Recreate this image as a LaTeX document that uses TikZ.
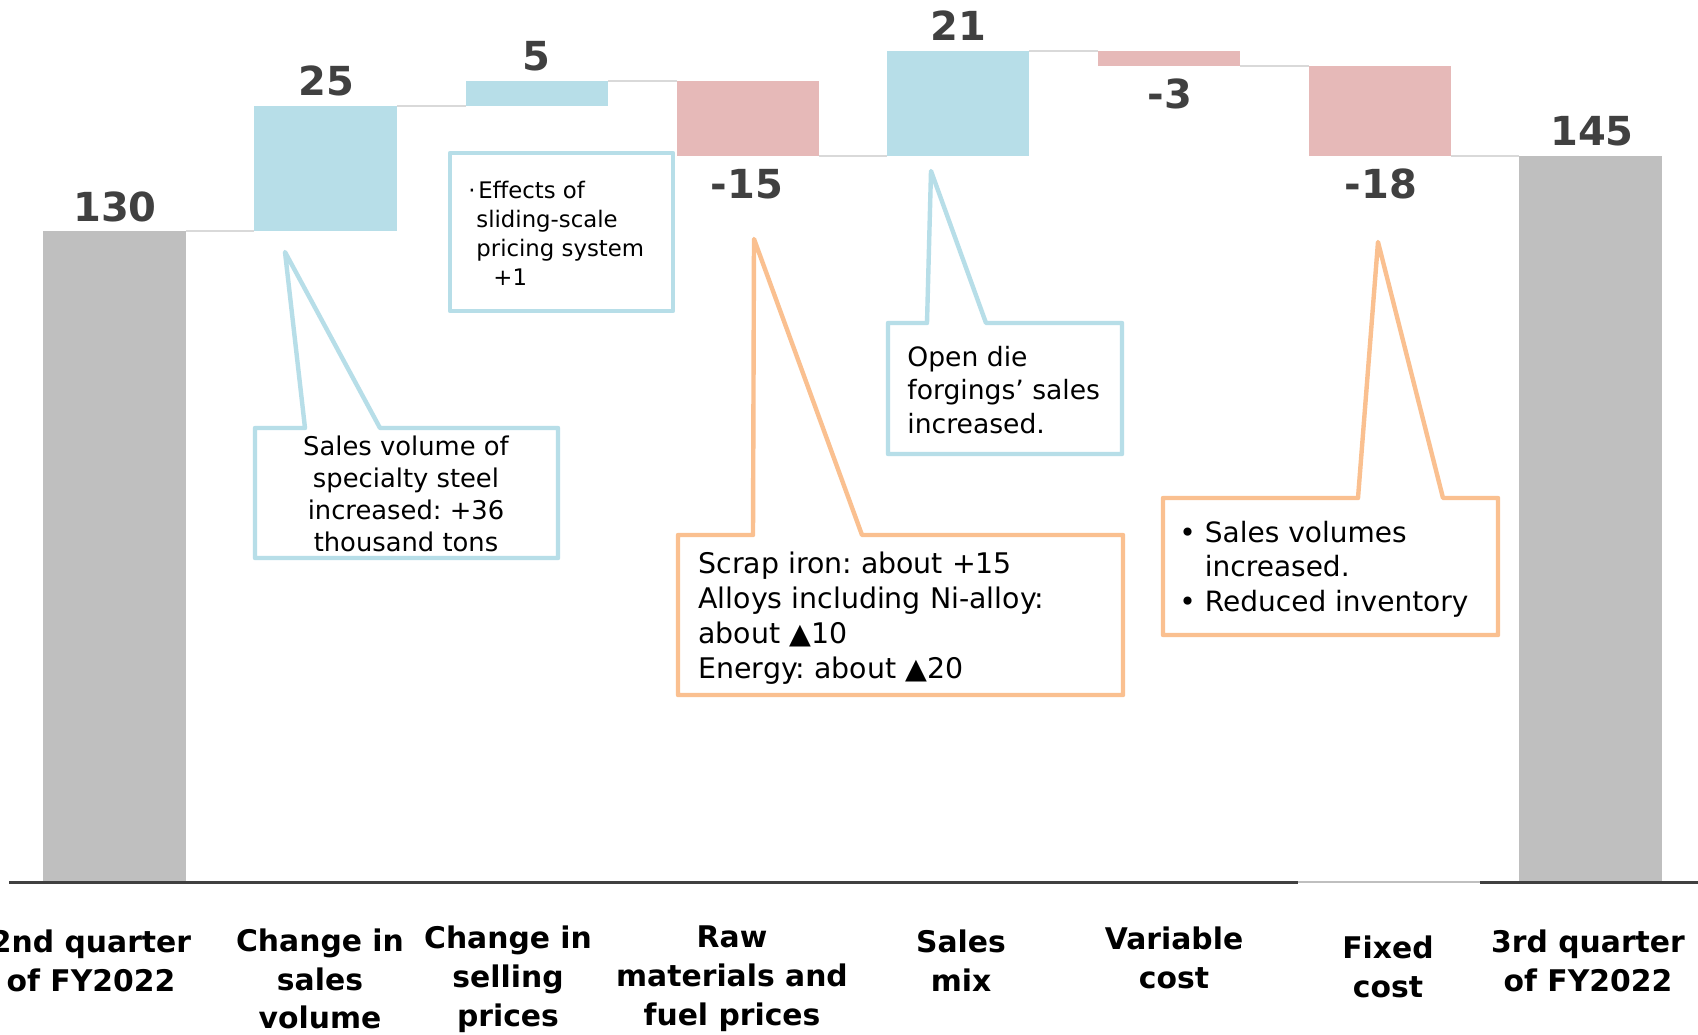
\documentclass[tikz,border=0pt]{standalone}
\usepackage{fontspec}
\setmainfont{DejaVu Sans}
\frenchspacing
\definecolor{barblue}{HTML}{B7DEE8}
\definecolor{barpink}{HTML}{E6B9B8}
\definecolor{bargray}{HTML}{BFBFBF}
\definecolor{callorange}{HTML}{FAC090}
\definecolor{valgray}{HTML}{404040}
\definecolor{linkgray}{HTML}{D9D9D9}
\definecolor{axisdark}{HTML}{404040}
\begin{document}
\frenchspacing
\begin{tikzpicture}[x=0.5pt,y=-0.5pt,
  val/.style={font=\bfseries\fontsize{20}{24}\selectfont, text=valgray, inner sep=0pt},
  cat/.style={font=\bfseries\fontsize{14.9}{19.4}\selectfont, align=center, inner sep=0pt},
  callblue/.style={draw=barblue, line width=2.2pt, fill=white, line join=round},
  callorg/.style={draw=callorange, line width=2.2pt, fill=white, line join=round},
  link/.style={draw=linkgray, line width=1pt},
  ctext/.style={inner sep=0pt, align=left, anchor=west}]
\useasboundingbox (0,0) rectangle (1698,1034);
\fill[white] (0,0) rectangle (1698,1034);

% connector lines between bars
\draw[link] (186,231) -- (254,231);
\draw[link] (397,106) -- (466,106);
\draw[link] (608,81) -- (677,81);
\draw[link] (819,156) -- (887,156);
\draw[link] (1029,51) -- (1098,51);
\draw[link] (1240,66) -- (1309,66);
\draw[link] (1451,156) -- (1519,156);

% bars
\fill[bargray] (43,231) rectangle (186,881);
\fill[barblue] (254,106) rectangle (397,231);
\fill[barblue] (466,81) rectangle (608,106);
\fill[barpink] (677,81) rectangle (819,156);
\fill[barblue] (887,51) rectangle (1029,156);
\fill[barpink] (1098,51) rectangle (1240,66);
\fill[barpink] (1309,66) rectangle (1451,156);
\fill[bargray] (1519,156) rectangle (1662,881);

% axis
\draw[axisdark, line width=1.5pt] (9,882) -- (1298,882);
\draw[bargray, line width=1pt] (1298,881.5) -- (1480,881.5);
\draw[axisdark, line width=1.5pt] (1480,882) -- (1698,882);

% value labels
\node[val] (v130) at (115,207) {130};
\node[val] (v25) at (326,81) {25};
\node[val] (v5) at (536,56) {5};
\node[val] (vm15) at (747,184) {-15};
\node[val] (v21) at (958,26) {21};
\node[val] (vm3) at (1170,94) {-3};
\node[val] (vm18) at (1381,184) {-18};
\node[val] (v145) at (1592,131) {145};

% category labels
\node[cat] (c1) at (91,961) {2nd quarter\\of FY2022};
\node[cat] (c2) at (320,979) {Change in\\sales\\volume};
\node[cat] (c3) at (508,979) {Change in\\selling\\prices};
\node[cat] (c4) at (732,979) {Raw\\materials and\\fuel prices};
\node[cat] (c5) at (961,961) {Sales\\mix};
\node[cat] (c6) at (1174,958) {Variable\\cost};
\node[cat] (c7) at (1388,967) {Fixed\\cost};
\node[cat] (c8) at (1588,961) {3rd quarter\\of FY2022};

% callout: sales volume
\draw[callblue] (255,428) -- (305,428) -- (285,252) -- (380,428) -- (558,428)
  -- (558,558) -- (255,558) -- cycle;
\node[inner sep=0pt, align=center, font=\fontsize{12.9}{16}\selectfont] (t1) at (406,494)
  {Sales volume of\\specialty steel\\increased: +36\\thousand tons};

% callout: sliding-scale
\draw[callblue] (450,153) rectangle (673,311);
\node[ctext, font=\fontsize{11.4}{14.5}\selectfont] (t2) at (468,233)
  {·\hspace{1.3pt}Effects of\\\hspace*{4pt}sliding-scale\\\hspace*{4pt}pricing system\\\hspace*{12.5pt}+1};

% callout: raw materials
\draw[callorg] (678,535) -- (753,535) -- (754,239) -- (862,535) -- (1123,535)
  -- (1123,695) -- (678,695) -- cycle;
\node[ctext, font=\fontsize{14.2}{17.5}\selectfont] (t3) at (698,618)
  {Scrap iron: about +15\\Alloys including Ni-alloy:\\about ▲10\\Energy: about ▲20};

% callout: open die
\draw[callblue] (888,323) -- (927,323) -- (931,171) -- (986,323) -- (1122,323)
  -- (1122,454) -- (888,454) -- cycle;
\node[ctext, font=\fontsize{13.3}{16.8}\selectfont] (t4) at (907,390)
  {Open die\\forgings’ sales\\increased.};

% callout: fixed cost
\draw[callorg] (1163,498) -- (1358,498) -- (1378,242) -- (1443,498) -- (1498,498)
  -- (1498,635) -- (1163,635) -- cycle;
\node[ctext, font=\fontsize{14}{17.3}\selectfont] (t5) at (1179,569)
  {•\hspace{4.5pt}Sales volumes\\\phantom{•}\hspace*{4.5pt}increased.\\•\hspace{4.5pt}Reduced inventory};
\end{tikzpicture}
\end{document}
